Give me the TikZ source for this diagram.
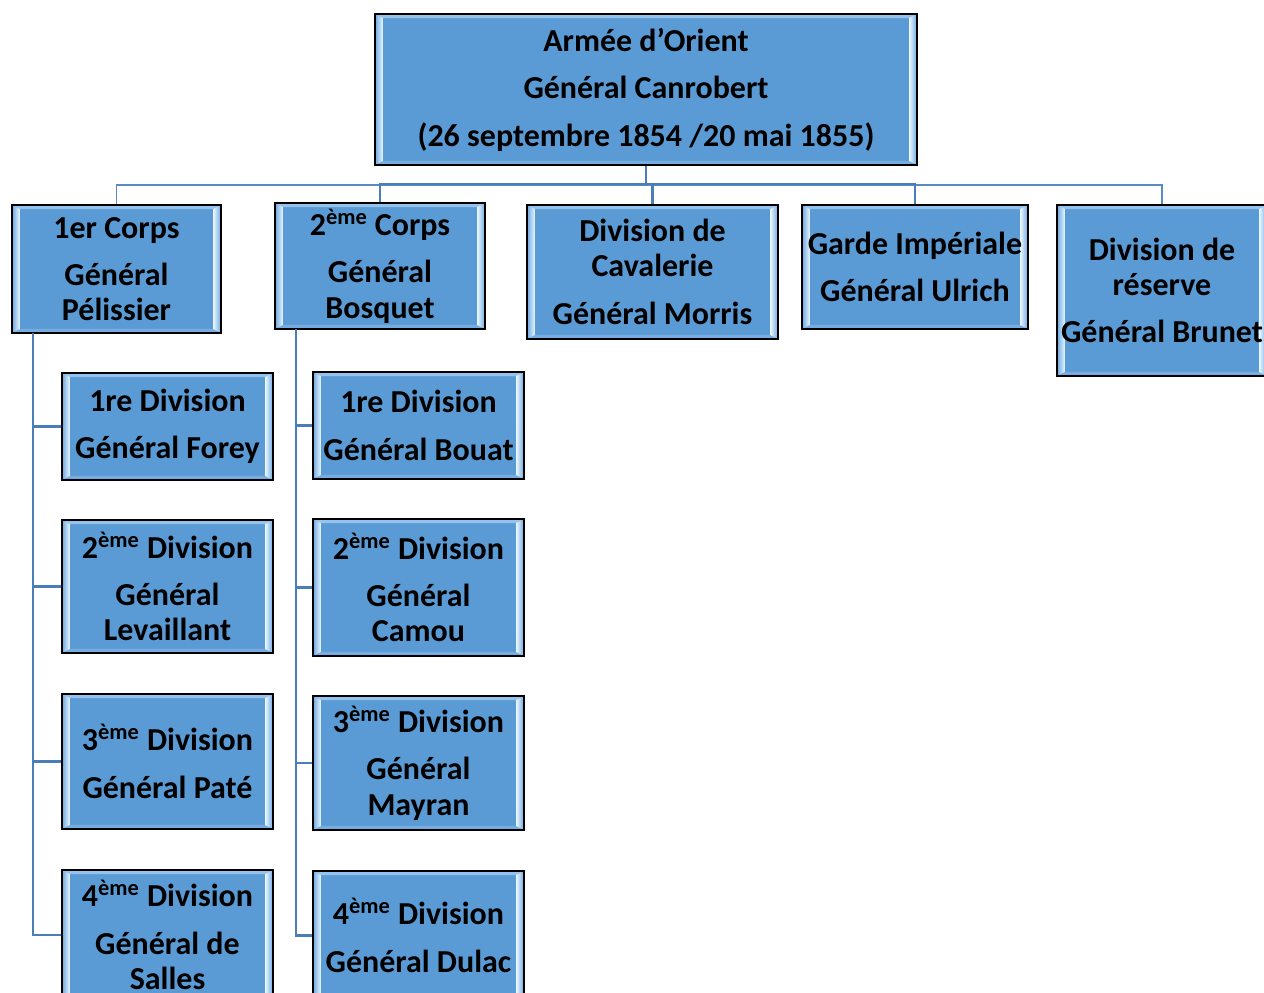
\documentclass[tikz,border=0pt]{standalone}
\usepackage{fontspec}
\setmainfont{Carlito}
\definecolor{boxblue}{RGB}{91,155,213}
\definecolor{bevtop}{RGB}{150,195,238}
\definecolor{bevbot}{RGB}{118,172,224}
\definecolor{bevedge}{RGB}{110,168,225}
\definecolor{bevlight}{RGB}{235,248,255}
\definecolor{linkblue}{RGB}{74,126,187}
\definecolor{linkpale}{RGB}{88,138,196}
\tikzset{
  unit/.style={draw=black, line width=0.9pt, fill=boxblue, inner sep=0pt,
    align=center, font=\fontsize{18.2}{20}\selectfont\bfseries,
    path picture={
      \fill[bevtop] (path picture bounding box.north west)
        -- (path picture bounding box.north east)
        -- ([shift={(-4.5pt,-2.3pt)}]path picture bounding box.north east)
        -- ([shift={(4.5pt,-2.3pt)}]path picture bounding box.north west) -- cycle;
      \fill[bevbot] (path picture bounding box.south west)
        -- (path picture bounding box.south east)
        -- ([shift={(-4.5pt,2.3pt)}]path picture bounding box.south east)
        -- ([shift={(4.5pt,2.3pt)}]path picture bounding box.south west) -- cycle;
      \shade[left color=bevedge, right color=bevlight]
        (path picture bounding box.north west)
        -- ([shift={(4.5pt,-2.3pt)}]path picture bounding box.north west)
        -- ([shift={(4.5pt,2.3pt)}]path picture bounding box.south west)
        -- (path picture bounding box.south west) -- cycle;
      \shade[left color=bevlight, right color=bevedge]
        (path picture bounding box.north east)
        -- ([shift={(-4.5pt,-2.3pt)}]path picture bounding box.north east)
        -- ([shift={(-4.5pt,2.3pt)}]path picture bounding box.south east)
        -- (path picture bounding box.south east) -- cycle;
    }},
  link/.style={draw=linkblue, line width=1.2pt},
  linkthin/.style={draw=linkpale, line width=1.05pt}
}
\newcommand{\eme}{\textsuperscript{ème}}
\begin{document}
\begin{tikzpicture}[x=0.02cm,y=-0.02cm]
  \useasboundingbox (0,0) rectangle (1264,993);
  % top and corps
  \path
    (646,89.5) node[unit, minimum width=10.84cm, minimum height=3.02cm] (armee)
      {Armée d’Orient\\[7pt] Général Canrobert\\[7pt] (26 septembre 1854 /20 mai 1855)}
    (116.5,269) node[unit, minimum width=4.18cm, minimum height=2.56cm] (corps1)
      {1er Corps\\[7pt] Général\\ Pélissier}
    (380,266) node[unit, minimum width=4.2cm, minimum height=2.52cm] (corps2)
      {2\eme{} Corps\\[7pt] Général\\ Bosquet}
    (652.5,272) node[unit, minimum width=5.02cm, minimum height=2.68cm] (cavalerie)
      {Division de\\ Cavalerie\\[7pt] Général Morris}
    (915,267) node[unit, minimum width=4.52cm, minimum height=2.48cm] (garde)
      {Garde Impériale\\[7pt] Général Ulrich}
    (1162,290.5) node[unit, minimum width=4.2cm, minimum height=3.42cm] (reserve)
      {Division de\\ réserve\\[7pt] Général Brunet};
  % divisions of the 1er Corps
  \path
    (167.5,426.5) node[unit, minimum width=4.22cm, minimum height=2.14cm] (div11)
      {1re Division\\[7pt] Général Forey}
    (167.5,586.5) node[unit, minimum width=4.22cm, minimum height=2.66cm] (div12)
      {2\eme{} Division\\[7pt] Général\\ Levaillant}
    (167.5,761.5) node[unit, minimum width=4.22cm, minimum height=2.7cm] (div13)
      {3\eme{} Division\\[7pt] Général Paté}
    (167.5,935) node[unit, minimum width=4.22cm, minimum height=2.6cm] (div14)
      {4\eme{} Division\\[7pt] Général de\\ Salles};
  % divisions of the 2eme Corps
  \path
    (418.5,425.5) node[unit, minimum width=4.22cm, minimum height=2.14cm] (div21)
      {1re Division\\[7pt] Général Bouat}
    (418.5,587.5) node[unit, minimum width=4.22cm, minimum height=2.74cm] (div22)
      {2\eme{} Division\\[7pt] Général\\ Camou}
    (418.5,763) node[unit, minimum width=4.22cm, minimum height=2.68cm] (div23)
      {3\eme{} Division\\[7pt] Général\\ Mayran}
    (418.5,935.5) node[unit, minimum width=4.22cm, minimum height=2.58cm] (div24)
      {4\eme{} Division\\[7pt] Général Dulac};
  \coordinate (hub) at (646,184);
  \coordinate (trunk1) at (33,333);
  \coordinate (trunk2) at (296,329);
  \begin{scope}[-]
    \draw[linkthin] (corps1.north) -- ++(0,-19) -| (reserve.north);
    \draw[link] (armee.south) -- (hub);
    \draw[link] (hub) -| (corps2.north);
    \draw[link] (hub) -| (cavalerie.north);
    \draw[link] (hub) -| (garde.north);
    \draw[link] (trunk1) |- (div11.west);
    \draw[link] (trunk1) |- (div12.west);
    \draw[link] (trunk1) |- (div13.west);
    \draw[link] (trunk1) |- (div14.west);
    \draw[link] (trunk2) |- (div21.west);
    \draw[link] (trunk2) |- (div22.west);
    \draw[link] (trunk2) |- (div23.west);
    \draw[link] (trunk2) |- (div24.west);
  \end{scope}
\end{tikzpicture}
\end{document}
